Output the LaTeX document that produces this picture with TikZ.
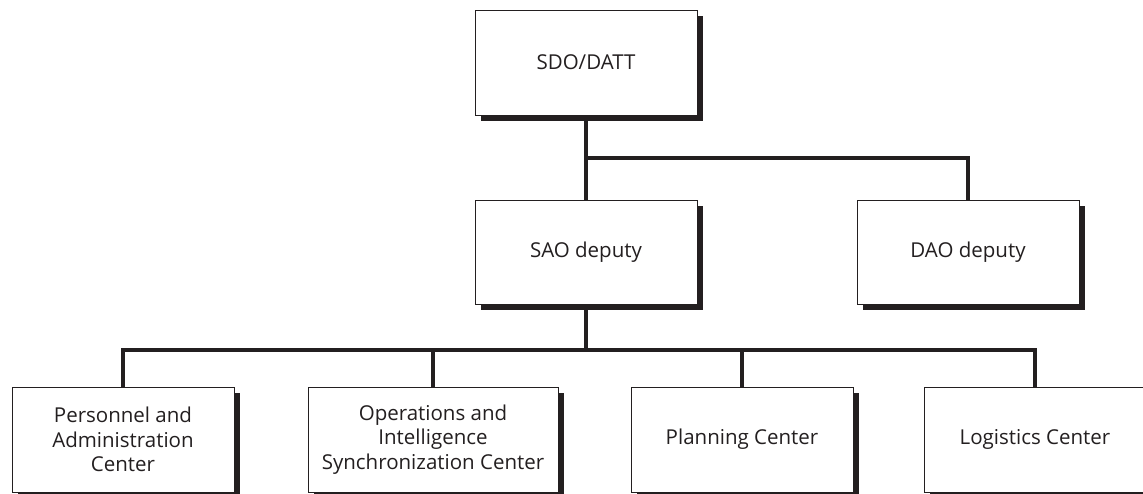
\documentclass[tikz,border=0pt]{standalone}
\usepackage{fontspec}
\setmainfont{Open Sans}
\usepackage{xcolor}
\usepackage{tikz}
\usetikzlibrary{positioning,calc,shadows}
\definecolor{inkdark}{HTML}{231F20}
\tikzset{
  orgbox/.style={draw=inkdark, line width=0.9pt, rectangle, fill=white, align=center, text=inkdark,
    font=\fontsize{20.5}{24.5}\selectfont, minimum width=222pt, minimum height=105pt, inner sep=2pt,
    drop shadow={shadow xshift=6pt, shadow yshift=-6pt, opacity=1, fill=inkdark}},
  conn/.style={draw=inkdark, line width=3.2pt, line join=miter}
}
\begin{document}
\begin{tikzpicture}[x=1pt,y=-1pt]
\useasboundingbox (0,0) rectangle (1143,494);

\node[orgbox] (sdo) at (586,62.5) {SDO/DATT};

\node[orgbox,minimum height=104pt] (sao) at (586,252) {SAO deputy};
\node[orgbox,minimum height=104pt] (dao) at (968,252) {DAO deputy};

\node[orgbox] (pers) at (123,439.5) {Personnel and\\ Administration\\ Center};
\node[orgbox,minimum width=250pt] (ops) at (433,439.5) {Operations and\\ Intelligence\\ Synchronization Center};
\node[orgbox] (plan) at (742,439.5) {Planning Center};
\node[orgbox] (logi) at (1035,439.5) {Logistics Center};

\coordinate (topbus) at (586,158);
\coordinate (lowbus) at (586,350);

% upper level
\draw[conn] (sdo.south) -- (sao.north);
\draw[conn] (topbus) -| (dao.north);

% lower level
\draw[conn] (sao.south) -- (lowbus);
\draw[conn] (pers.north) |- (logi.north |- lowbus) -- (logi.north);
\draw[conn] (ops.north |- lowbus) -- (ops.north);
\draw[conn] (plan.north |- lowbus) -- (plan.north);
\end{tikzpicture}
\end{document}
